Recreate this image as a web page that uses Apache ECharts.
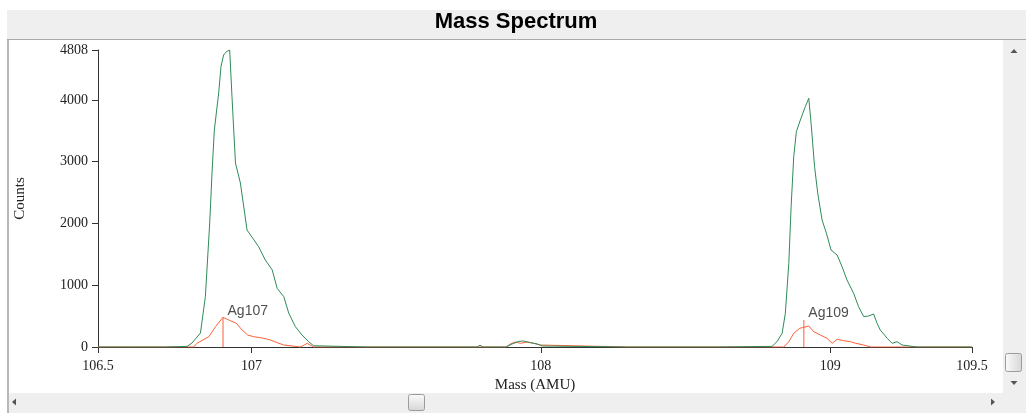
<!DOCTYPE html>
<html><head><meta charset="utf-8">
<script src="https://cdn.jsdelivr.net/npm/echarts@6/dist/echarts.min.js"></script>
<style>html,body{margin:0;padding:0;background:#fff}#c{width:1026px;height:417px}</style>
</head><body><div id="c"></div>
<script>
const titleText = 'Mass Spectrum';
const xName = 'Mass (AMU)';
const yName = 'Counts';
const xTickValues = [106.47, 107, 108, 109, 109.49];
const xTickLabels = ['106.5', '107', '108', '109', '109.5'];
const yTickValues = [0, 1000, 2000, 3000, 4000, 4808];
const yTickLabels = ['0', '1000', '2000', '3000', '4000', '4808'];

// total counts (green trace)
const totalMass = [106.47, 106.60, 106.70, 106.778, 106.795, 106.824, 106.841, 106.856, 106.864, 106.872,
  106.887, 106.895, 106.904, 106.914, 106.925, 106.933, 106.945, 106.962, 106.985, 107.025,
  107.048, 107.072, 107.089, 107.112, 107.129, 107.152, 107.175, 107.198, 107.215, 107.40,
  107.78, 107.79, 107.80, 107.88, 107.901, 107.924, 107.941, 107.964, 107.987, 108.005,
  108.30, 108.60, 108.799, 108.816, 108.834, 108.845, 108.857, 108.865, 108.874, 108.883,
  108.897, 108.914, 108.926, 108.934, 108.946, 108.957, 108.972, 108.987, 109.003, 109.024,
  109.041, 109.058, 109.081, 109.098, 109.116, 109.133, 109.150, 109.162, 109.173, 109.197,
  109.214, 109.231, 109.249, 109.30, 109.49];
const totalCounts = [0, 0, 0, 10, 65, 227, 814, 2008, 2817, 3513,
  4112, 4538, 4727, 4781, 4808, 4052, 2979, 2655, 1894, 1624,
  1409, 1247, 950, 814, 550, 329, 194, 86, 20, 0,
  0, 30, 0, 0, 49, 92, 97, 70, 49, 16,
  0, 0, 10, 86, 222, 546, 1355, 2271, 3081, 3486,
  3675, 3890, 4026, 3622, 2919, 2488, 2056, 1841, 1570, 1489,
  1300, 1085, 869, 653, 491, 502, 534, 384, 275, 141,
  60, 86, 32, 0, 0];

// isotope trace (orange)
const isoMass = [106.47, 106.70, 106.80, 106.812, 106.853, 106.876, 106.902, 106.927, 106.948, 106.968,
  106.987, 107.008, 107.043, 107.066, 107.089, 107.112, 107.17, 107.193, 107.215, 107.50,
  107.88, 107.895, 107.912, 107.930, 107.953, 107.976, 107.999, 108.30, 108.84, 108.857,
  108.874, 108.895, 108.909, 108.926, 108.943, 108.966, 108.989, 109.007, 109.024, 109.047,
  109.070, 109.088, 109.116, 109.14, 109.49];
const isoCounts = [0, 0, 0, 60, 167, 329, 481, 426, 384, 275,
  194, 167, 141, 113, 70, 32, 0, 60, 0, 0,
  0, 49, 81, 60, 81, 60, 32, 0, 0, 86,
  222, 303, 319, 340, 248, 194, 141, 60, 125, 102,
  86, 60, 32, 0, 0];

const peakNames = ['Ag107', 'Ag109'];
const peakMass = [106.902, 108.909];
const peakHeight = [481, 437];

const GREEN = '#2e8b57';
const ORANGE = '#ff6036';
const AXIS = '#333';
const SERIF = '"Liberation Serif", "Times New Roman", serif';
const SANS = '"Liberation Sans", Arial, sans-serif';

function pickLabel(values, labels, v) {
  let best = 0;
  for (let i = 1; i < values.length; i++) {
    if (Math.abs(values[i] - v) < Math.abs(values[best] - v)) best = i;
  }
  return labels[best];
}

const chart = echarts.init(document.getElementById('c'), null, {renderer: 'canvas'});

const bg = [
  {type: 'rect', shape: {x: 7, y: 10, width: 1019, height: 403}, style: {fill: '#efefef'}, z: -20, silent: true},
  {type: 'rect', shape: {x: 9, y: 40, width: 994, height: 353}, style: {fill: '#ffffff'}, z: -19, silent: true},
  {type: 'line', shape: {x1: 7, y1: 39.5, x2: 1026, y2: 39.5}, style: {stroke: '#a8a8a8', lineWidth: 1}, z: -18, silent: true},
  {type: 'line', shape: {x1: 8, y1: 40, x2: 8, y2: 413}, style: {stroke: '#b8b8b8', lineWidth: 2}, z: -18, silent: true},
  // scrollbar arrows
  {type: 'polygon', shape: {points: [[1010.5, 53], [1017.5, 53], [1014, 49]]}, style: {fill: '#555'}, z: -17, silent: true},
  {type: 'polygon', shape: {points: [[1010.5, 381], [1017.5, 381], [1014, 385]]}, style: {fill: '#555'}, z: -17, silent: true},
  {type: 'polygon', shape: {points: [[16, 398.5], [16, 405.5], [12, 402]]}, style: {fill: '#555'}, z: -17, silent: true},
  {type: 'polygon', shape: {points: [[991, 398.5], [991, 405.5], [995, 402]]}, style: {fill: '#555'}, z: -17, silent: true},
  // thumbs
  {type: 'rect', shape: {x: 1005.5, y: 353.5, width: 16, height: 18, r: 2},
    style: {fill: new echarts.graphic.LinearGradient(0, 0, 1, 0, [{offset: 0, color: '#fbfbfb'}, {offset: 1, color: '#d6d6d6'}]), stroke: '#9c9c9c', lineWidth: 1}, z: -17, silent: true},
  {type: 'rect', shape: {x: 408.5, y: 394.5, width: 16, height: 16, r: 2},
    style: {fill: new echarts.graphic.LinearGradient(0, 0, 0, 1, [{offset: 0, color: '#fbfbfb'}, {offset: 1, color: '#d6d6d6'}]), stroke: '#9c9c9c', lineWidth: 1}, z: -17, silent: true},
  // title
  {type: 'text', x: 516, y: 22, style: {text: titleText, textAlign: 'center', textVerticalAlign: 'middle',
    font: 'bold 22px ' + SANS, fill: '#000'}, z: 10, silent: true}
];

const markerSeries = peakMass.map((m, i) => ({
  type: 'line', name: peakNames[i] + ' marker', z: 2, silent: true,
  data: [[m, 0], [m, peakHeight[i]]],
  showSymbol: false, symbol: 'none',
  lineStyle: {color: ORANGE, width: 1},
  itemStyle: {color: ORANGE}
}));

chart.setOption({
  animation: false,
  backgroundColor: '#ffffff',
  graphic: bg,
  grid: {left: 98, right: 54, top: 50, bottom: 70, containLabel: false},
  xAxis: {
    type: 'value', min: 106.47, max: 109.49,
    name: xName, nameLocation: 'middle', nameGap: 26,
    nameTextStyle: {fontFamily: SERIF, fontSize: 15, color: '#222'},
    axisLine: {show: true, onZero: false, lineStyle: {color: AXIS, width: 1}},
    axisTick: {show: true, length: 6, customValues: xTickValues, lineStyle: {color: AXIS}},
    axisLabel: {customValues: xTickValues, margin: 12, fontFamily: SERIF, fontSize: 14, color: '#222',
      formatter: v => pickLabel(xTickValues, xTickLabels, v)},
    splitLine: {show: false}
  },
  yAxis: {
    type: 'value', min: 0, max: 4808,
    name: yName, nameLocation: 'middle', nameGap: 70, nameRotate: 90,
    nameTextStyle: {fontFamily: SERIF, fontSize: 15, color: '#222'},
    axisLine: {show: true, lineStyle: {color: AXIS, width: 1}},
    axisTick: {show: true, length: 6, customValues: yTickValues, lineStyle: {color: AXIS}},
    axisLabel: {customValues: yTickValues, margin: 10, fontFamily: SERIF, fontSize: 14, color: '#222',
      formatter: v => pickLabel(yTickValues, yTickLabels, v)},
    splitLine: {show: false}
  },
  series: [
    {
      type: 'line', name: 'isotope', z: 2,
      data: isoMass.map((m, i) => [m, isoCounts[i]]),
      showSymbol: false, symbol: 'none',
      lineStyle: {color: ORANGE, width: 1},
      itemStyle: {color: ORANGE}
    },
    ...markerSeries,
    {
      type: 'line', name: 'total', z: 3,
      data: totalMass.map((m, i) => [m, totalCounts[i]]),
      showSymbol: false, symbol: 'none',
      lineStyle: {color: GREEN, width: 1},
      itemStyle: {color: GREEN}
    },
    {
      type: 'scatter', name: 'labels', z: 4, silent: true,
      symbolSize: 1, itemStyle: {color: 'rgba(0,0,0,0)'},
      data: peakMass.map((m, i) => ({value: [m, peakHeight[i]], name: peakNames[i]})),
      label: {show: true, position: [5, -13], formatter: '{b}', fontFamily: SANS, fontSize: 14, color: '#222'}
    }
  ]
});
</script>
</body></html>
